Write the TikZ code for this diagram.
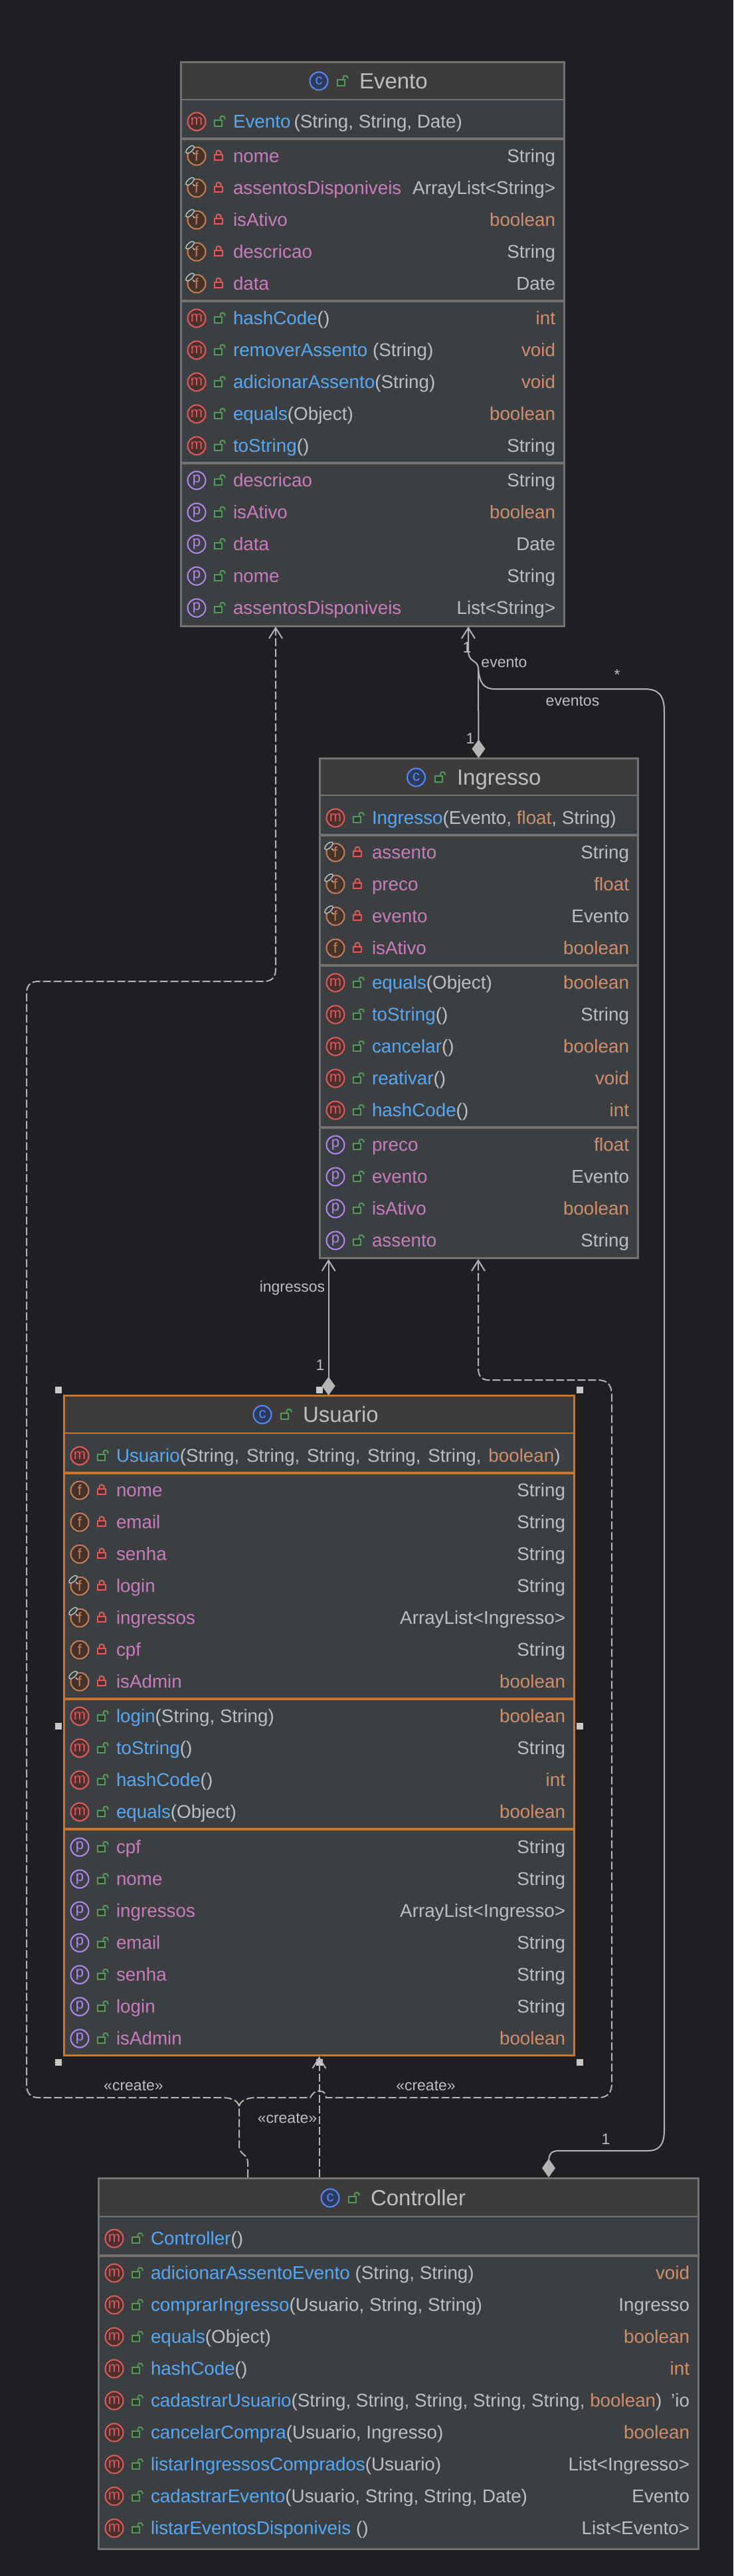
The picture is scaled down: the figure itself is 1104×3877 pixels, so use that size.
\documentclass[tikz,border=0pt]{standalone}
\usepackage{fontspec}
\setmainfont{Liberation Sans}
\usetikzlibrary{arrows.meta,shapes.geometric}
\definecolor{bgc}{HTML}{1E1F22}
\definecolor{bodyc}{HTML}{3C3F41}
\definecolor{headc}{HTML}{3D3C3B}
\definecolor{borderc}{HTML}{727272}
\definecolor{selc}{HTML}{C8762F}
\definecolor{txt}{HTML}{BCBEC4}
\definecolor{kw}{HTML}{CF8E6D}
\definecolor{fieldc}{HTML}{C77DBB}
\definecolor{mthc}{HTML}{56A8F5}
\definecolor{linec}{HTML}{B4B4B4}
\definecolor{handlec}{HTML}{C8C8C8}
\definecolor{mstroke}{HTML}{DB5C5C}
\definecolor{mfill}{HTML}{4D2F30}
\definecolor{fstroke}{HTML}{C77D55}
\definecolor{ffill}{HTML}{45322B}
\definecolor{pstroke}{HTML}{B189F5}
\definecolor{cstroke}{HTML}{548AF7}
\definecolor{cfill}{HTML}{2C3A5C}
\definecolor{greenl}{HTML}{57965C}
\definecolor{greenf}{HTML}{2A3A2C}
\definecolor{redl}{HTML}{DB5C5C}
\definecolor{redf}{HTML}{4D2F30}
\newcounter{rw}
\tikzset{
  every node/.style={inner sep=0pt,outer sep=0pt},
  rowtext/.style={font=\fontsize{27.8pt}{32pt}\selectfont,text=txt},
  nametext/.style={rowtext,anchor=base west},
  typetext/.style={rowtext,anchor=base east},
  titletext/.style={font=\fontsize{33pt}{38pt}\selectfont,text=txt,anchor=base west},
  classbox/.style={draw=borderc,fill=bodyc,line width=3pt,rectangle},
  selbox/.style={draw=selc,fill=bodyc,line width=3pt,rectangle},
  headfill/.style={fill=headc},
  sepline/.style={draw=borderc,line width=3.5pt},
  headline/.style={draw=borderc,line width=2pt},
  sepsel/.style={draw=selc,line width=3.5pt},
  headsel/.style={draw=selc,line width=2pt},
  icbase/.style={circle,minimum size=27pt,line width=2pt,font=\fontsize{22pt}{24pt}\selectfont},
  iconm/.style={icbase,draw=mstroke,fill=mfill,text=mstroke},
  iconf/.style={icbase,draw=fstroke,fill=ffill,text=fstroke},
  iconp/.style={icbase,draw=pstroke,fill=bodyc,text=pstroke},
  iconc/.style={icbase,draw=cstroke,fill=cfill,text=cstroke},
  pinmark/.style={ellipse,draw=txt,fill=bodyc,line width=1.5pt,minimum width=15pt,minimum height=7pt,rotate=42},
  lockred/.style={draw=redl,fill=redf,line width=2pt},
  lockgreen/.style={draw=greenl,fill=greenf,line width=2pt},
  shred/.style={draw=redl,line width=2pt},
  shgreen/.style={draw=greenl,line width=2pt},
  handlebox/.style={rectangle,fill=handlec,minimum size=9.5pt},
  linklabel/.style={font=\fontsize{23pt}{26pt}\selectfont,text=txt},
  link/.style={draw=linec,line width=2pt},
  deplink/.style={link,dash pattern=on 12pt off 4pt},
  openhead/.style={-{Straight Barb[length=16pt,width=20pt,line width=2pt]}},
  diamondtail/.style={{Diamond[length=28pt,width=20pt,fill=linec]}-},
  diamondopen/.style={{Diamond[length=28pt,width=20pt,fill=linec]}-{Straight Barb[length=16pt,width=20pt,line width=2pt]}},
}
\newcommand\mn[1]{{\color{mthc}#1}}
\newcommand\kt[1]{{\color{kw}#1}}
\newcommand\lockclosed[2]{%
  \draw[lockred] ({#1-6},{#2-2}) rectangle ({#1+6},{#2+6});
  \draw[shred] ({#1-3.5},{#2-2}) -- ({#1-3.5},{#2-5}) .. controls ({#1-3.5},{#2-9.5}) and ({#1+3.5},{#2-9.5}) .. ({#1+3.5},{#2-5}) -- ({#1+3.5},{#2-2});
}
\newcommand\lockopen[2]{%
  \draw[lockgreen] ({#1-6},{#2-2}) rectangle ({#1+5},{#2+7});
  \draw[shgreen] ({#1+2.5},{#2-2}) -- ({#1+2.5},{#2-5}) .. controls ({#1+2.5},{#2-9.5}) and ({#1+10},{#2-9.5}) .. ({#1+10},{#2-3.5});
}
\newcommand\rowtexts[3]{%
  \node[nametext,anchor=base west] (nm\therw) at (\bL+79,#1+9) {#2};
  \node[typetext] (tp\therw) at (\bR-13,#1+9) {#3};
}
% y, name, type
\newcommand\rowm[3]{\stepcounter{rw}%
  \node[iconm] (ic\therw) at (\bL+24,#1) {m};
  \lockopen{\bL+57}{#1}
  \rowtexts{#1}{\mn{#2}}{#3}}
\newcommand\rowp[3]{\stepcounter{rw}%
  \node[iconp] (ic\therw) at (\bL+24,#1) {p};
  \lockopen{\bL+57}{#1}
  \rowtexts{#1}{\textcolor{fieldc}{#2}}{#3}}
\newcommand\rowf[3]{\stepcounter{rw}%
  \node[iconf] (ic\therw) at (\bL+24,#1) {f};
  \lockclosed{\bL+57}{#1}
  \rowtexts{#1}{\textcolor{fieldc}{#2}}{#3}}
\newcommand\rowk[3]{\stepcounter{rw}%
  \node[iconf] (ic\therw) at (\bL+24,#1) {f};
  \node[pinmark] (pn\therw) at (\bL+14,#1-10) {};
  \draw[draw=txt,line width=1.5pt] (\bL+18,#1-6) -- (\bL+21,#1-3);
  \lockclosed{\bL+57}{#1}
  \rowtexts{#1}{\textcolor{fieldc}{#2}}{#3}}
% c icon x, text x, y, title
\newcommand\titlerow[4]{\stepcounter{rw}%
  \node[iconc] (ic\therw) at (#1,#3) {c};
  \lockopen{#1+34}{#3}
  \node[titletext] (tt\therw) at (#2,#3+11) {#4};}
\begin{document}
\begin{tikzpicture}[x=1pt,y=-1pt]
\useasboundingbox (0,0) rectangle (1104,3877);
\fill[bgc] (0,0) rectangle (1104,3877);

% ---------- Evento
\def\bL{272}\def\bR{849}
\node[classbox,minimum width=577pt,minimum height=849pt] (evento) at (560.5,517.5) {};
\fill[headfill] (\bL+1.5,94.5) rectangle (\bR-1.5,150);
\draw[headline] (\bL,150) -- (\bR,150);
\draw[sepline] (\bL,209) -- (\bR,209);
\draw[sepline] (\bL,453) -- (\bR,453);
\draw[sepline] (\bL,697) -- (\bR,697);
\titlerow{480}{541}{122}{Evento}
\rowm{183}{Evento\hspace{5pt}}{}
\node[rowtext,anchor=base west] (ectorargs) at (nm\therw.base east) {(String, String, Date)};
\rowk{235}{nome}{String}
\rowk{283}{assentosDisponiveis}{ArrayList<String>}
\rowk{331}{isAtivo}{\kt{boolean}}
\rowk{379}{descricao}{String}
\rowk{427}{data}{Date}
\rowm{479}{hashCode{\color{txt}()}}{\kt{int}}
\rowm{527}{removerAssento {\color{txt}(String)}}{\kt{void}}
\rowm{575}{adicionarAssento{\color{txt}(String)}}{\kt{void}}
\rowm{623}{equals{\color{txt}(Object)}}{\kt{boolean}}
\rowm{671}{toString{\color{txt}()}}{String}
\rowp{723}{descricao}{String}
\rowp{771}{isAtivo}{\kt{boolean}}
\rowp{819}{data}{Date}
\rowp{867}{nome}{String}
\rowp{915}{assentosDisponiveis}{List<String>}

% ---------- Ingresso
\def\bL{481}\def\bR{960}
\node[classbox,minimum width=479pt,minimum height=752pt] (ingresso) at (720.5,1517) {};
\fill[headfill] (\bL+1.5,1142.5) rectangle (\bR-1.5,1197);
\draw[headline] (\bL,1197) -- (\bR,1197);
\draw[sepline] (\bL,1257) -- (\bR,1257);
\draw[sepline] (\bL,1453) -- (\bR,1453);
\draw[sepline] (\bL,1697) -- (\bR,1697);
\titlerow{626.5}{688}{1170}{Ingresso}
\rowm{1231}{Ingresso{\color{txt}(Evento, \kt{float}, String)}}{}
\rowk{1283}{assento}{String}
\rowk{1331}{preco}{\kt{float}}
\rowk{1379}{evento}{Evento}
\rowf{1427}{isAtivo}{\kt{boolean}}
\rowm{1479}{equals{\color{txt}(Object)}}{\kt{boolean}}
\rowm{1527}{toString{\color{txt}()}}{String}
\rowm{1575}{cancelar{\color{txt}()}}{\kt{boolean}}
\rowm{1623}{reativar{\color{txt}()}}{\kt{void}}
\rowm{1671}{hashCode{\color{txt}()}}{\kt{int}}
\rowp{1723}{preco}{\kt{float}}
\rowp{1771}{evento}{Evento}
\rowp{1819}{isAtivo}{\kt{boolean}}
\rowp{1867}{assento}{String}

% ---------- Usuario
\def\bL{96}\def\bR{864}
\node[selbox,minimum width=768pt,minimum height=993pt] (usuario) at (480,2596.5) {};
\fill[headfill] (\bL+1.5,2101.5) rectangle (\bR-1.5,2157);
\draw[headsel] (\bL,2157) -- (\bR,2157);
\draw[sepsel] (\bL,2217) -- (\bR,2217);
\draw[sepsel] (\bL,2557) -- (\bR,2557);
\draw[sepsel] (\bL,2753) -- (\bR,2753);
\titlerow{395}{456}{2129}{Usuario}
\rowm{2191}{Usuario{\color{txt}(String,\hspace{3pt} String,\hspace{3pt} String,\hspace{3pt} String,\hspace{3pt} String,\hspace{3pt} \kt{boolean})}}{}
\rowf{2243}{nome}{String}
\rowf{2291}{email}{String}
\rowf{2339}{senha}{String}
\rowk{2387}{login}{String}
\rowk{2435}{ingressos}{ArrayList<Ingresso>}
\rowf{2483}{cpf}{String}
\rowk{2531}{isAdmin}{\kt{boolean}}
\rowm{2583}{login{\color{txt}(String, String)}}{\kt{boolean}}
\rowm{2631}{toString{\color{txt}()}}{String}
\rowm{2679}{hashCode{\color{txt}()}}{\kt{int}}
\rowm{2727}{equals{\color{txt}(Object)}}{\kt{boolean}}
\rowp{2780}{cpf}{String}
\rowp{2828}{nome}{String}
\rowp{2876}{ingressos}{ArrayList<Ingresso>}
\rowp{2924}{email}{String}
\rowp{2972}{senha}{String}
\rowp{3020}{login}{String}
\rowp{3068}{isAdmin}{\kt{boolean}}

% ---------- Controller
\def\bL{148}\def\bR{1051}
\node[classbox,minimum width=903pt,minimum height=558pt] (controller) at (599.5,3557) {};
\fill[headfill] (\bL+1.5,3279.5) rectangle (\bR-1.5,3336);
\draw[headline] (\bL,3336) -- (\bR,3336);
\draw[sepline] (\bL,3395) -- (\bR,3395);
\titlerow{497}{558}{3308}{Controller}
\rowm{3369}{Controller{\color{txt}()}}{}
\rowm{3421}{adicionarAssentoEvento {\color{txt}(String, String)}}{\kt{void}}
\rowm{3469}{comprarIngresso{\color{txt}(Usuario, String, String)}}{Ingresso}
\rowm{3517}{equals{\color{txt}(Object)}}{\kt{boolean}}
\rowm{3565}{hashCode{\color{txt}()}}{\kt{int}}
\rowm{3613}{cadastrarUsuario{\color{txt}(String, String, String, String, String, \kt{boolean})}}{'io}
\rowm{3661}{cancelarCompra{\color{txt}(Usuario, Ingresso)}}{\kt{boolean}}
\rowm{3709}{listarIngressosComprados{\color{txt}(Usuario)}}{List<Ingresso>}
\rowm{3757}{cadastrarEvento{\color{txt}(Usuario, String, String, Date)}}{Evento}
\rowm{3805}{listarEventosDisponiveis {\color{txt}()}}{List<Evento>}

% ---------- selection handles
\node[handlebox] (h1) at (88,2092) {};
\node[handlebox] (h2) at (481,2092) {};
\node[handlebox] (h3) at (873,2092) {};
\node[handlebox] (h4) at (88,2598) {};
\node[handlebox] (h5) at (873,2598) {};
\node[handlebox] (h6) at (88,3104) {};
\node[handlebox] (h7) at (481,3104) {};
\node[handlebox] (h8) at (873,3104) {};

% ---------- connector ends
\coordinate (evA) at (705,943);
\coordinate (evB) at (415,943);
\coordinate (inA) at (494.6,1895);
\coordinate (inB) at (720,1895);
\coordinate (usTop) at (494.6,2100);
\coordinate (usBot) at (480.5,3095);
\coordinate (cD) at (826,3277);
\coordinate (cE) at (373,3277);
\coordinate (cU) at (480.5,3277);
\coordinate (fork) at (360,3170);
\coordinate (merge) at (720,1006);

% ---------- labels
\node[linklabel] (l1e) at (703,975) {1};
\node[linklabel] (levento) at (759,997) {evento};
\node[linklabel] (l1i) at (708,1112) {1};
\node[linklabel] (lstar) at (929,1016) {*};
\node[linklabel] (leventos) at (862,1055) {eventos};
\node[linklabel] (lingressos) at (440,1939) {ingressos};
\node[linklabel] (l1u) at (482,2055) {1};
\node[linklabel] (lc1) at (201,3139) {«create»};
\node[linklabel] (lc2) at (641,3139) {«create»};
\node[linklabel] (lc3) at (432.5,3188) {«create»};
\node[linklabel] (l1c) at (912,3220) {1};

% ---------- connectors
\draw[link,diamondopen] (ingresso.north) -- (720,1005) .. controls (719,993) and (705,997) .. (705,980) -- (evA);
\draw[link,diamondtail] (cD) -- (826,3255) .. controls (826,3241) and (830,3237) .. (842,3237) -- (975,3237) .. controls (995,3237) and (1000,3225) .. (1000,3205) -- (1000,1070) .. controls (1000,1045) and (990,1037) .. (970,1037) -- (745,1037) .. controls (728,1037) and (722,1028) .. (merge);
\draw[link,diamondopen] (usTop) -- (inA);
\draw[deplink,openhead] (cU) -- (usBot);
\draw[deplink] (cE) -- (373,3255) .. controls (373,3240) and (360,3245) .. (360,3228) -- (fork);
\draw[deplink,openhead] (fork) .. controls (358,3160) and (345,3157) .. (335,3157) -- (58,3157) .. controls (46,3157) and (40,3150) .. (40,3138) -- (40,1495) .. controls (40,1483) and (46,1477) .. (58,1477) -- (397,1477) .. controls (409,1477) and (415,1471) .. (415,1459) -- (evB);
\draw[deplink,openhead] (fork) .. controls (362,3160) and (375,3157) .. (385,3157) -- (467,3157) .. controls (471,3150) and (474,3147) .. (480.5,3147) .. controls (487,3147) and (490,3150) .. (491,3157) -- (900,3157) .. controls (915,3157) and (921,3150) .. (921,3135) -- (921,2100) .. controls (921,2085) and (915,2077) .. (900,2077) -- (735,2077) .. controls (725,2077) and (720,2070) .. (720,2060) -- (inB);
\end{tikzpicture}
\end{document}
